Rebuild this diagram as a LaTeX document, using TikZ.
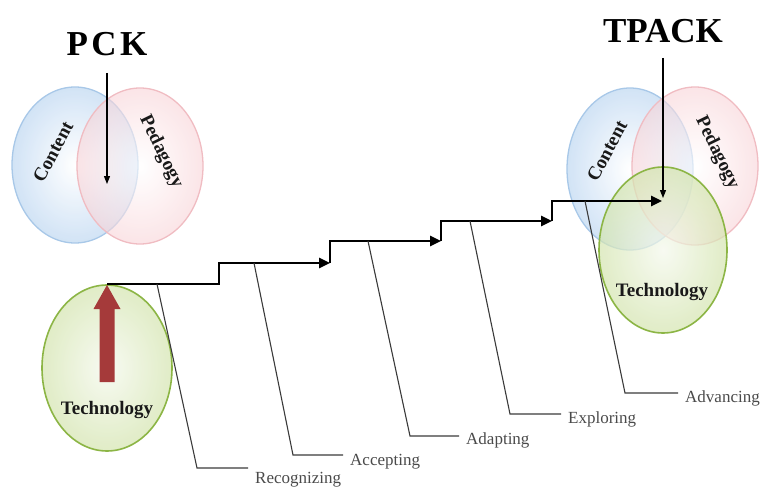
\documentclass[tikz,border=0pt]{standalone}
\usepackage{fontspec}
\setmainfont{Liberation Serif}
\usetikzlibrary{shapes.geometric,arrows.meta,calc}
\definecolor{cborder}{HTML}{A8C8E8}
\definecolor{cfill}{HTML}{C6DCF3}
\definecolor{pborder}{HTML}{F0BCC2}
\definecolor{pfill}{HTML}{F8D3D7}
\definecolor{tborder}{HTML}{8CB545}
\definecolor{tfill}{HTML}{D3E4AE}
\definecolor{tinner}{HTML}{F4F8EC}
\definecolor{redarr}{HTML}{A53A3A}
\definecolor{leadc}{HTML}{3A3A3A}
\definecolor{labc}{HTML}{4A4A4A}
\tikzset{
  venn/.style={ellipse, inner sep=0pt, line width=1.3pt},
  contentell/.style={venn, draw=cborder, shade, inner color=white, outer color=cfill, fill opacity=0.8},
  pedell/.style={venn, draw=pborder, shade, inner color=white, outer color=pfill, fill opacity=0.6},
  techell/.style={venn, draw=tborder, line width=1.6pt, shade, inner color=tinner, outer color=tfill, fill opacity=0.7},
  vennlab/.style={font=\fontsize{19}{19}\selectfont\bfseries, text=black!90},
  title/.style={font=\fontsize{35}{35}\selectfont\bfseries},
  stagelab/.style={anchor=west, inner xsep=7pt, inner ysep=1pt, text=labc, font=\fontsize{17}{17}\selectfont},
  stair/.style={line width=2.6pt, line join=miter},
  stairarrow/.style={stair, -{Triangle[length=11pt,width=10pt]}},
  leader/.style={draw=leadc, line width=1.1pt},
  thinarrow/.style={line width=1.1pt, -{Triangle[length=8pt,width=6pt]}}
}
\begin{document}
\begin{tikzpicture}[x=1pt,y=-1pt]
\useasboundingbox (0,0) rectangle (763,492);

% ---------- left Venn (PCK) ----------
\node[contentell, minimum width=126pt, minimum height=156pt] (c1) at (75,165) {};
\node[pedell, minimum width=126pt, minimum height=156pt] (p1) at (140,166) {};
\node[vennlab, rotate=62] (c1lab) at (53,152) {Content};
\node[vennlab, rotate=-64] (p1lab) at (161,152) {Pedagogy};
\node[title] (pck) at (107,44.5) {\spaceskip=0.1em P C K};
\coordinate (pckend) at (107,184);
\draw[thinarrow, shorten <=13pt] (pck.south) -- (pckend);

% ---------- left Technology ----------
\node[techell, minimum width=130pt, minimum height=166pt] (t1) at (107,368) {};
\fill[redarr] (99.5,382) -- (99.5,309) -- (93.5,309) -- (107,285) -- (120.5,309) -- (114.5,309) -- (114.5,382) -- cycle;
\node[vennlab] (t1lab) at (107,410) {Technology};

% ---------- right Venn (TPACK) ----------
\node[contentell, minimum width=126pt, minimum height=162pt] (c2) at (630,169) {};
\node[pedell, minimum width=126pt, minimum height=158pt] (p2) at (695,166) {};
\node[techell, minimum width=128pt, minimum height=166pt] (t2) at (663,250) {};
\node[vennlab, rotate=62] (c2lab) at (607,151) {Content};
\node[vennlab, rotate=-64] (p2lab) at (717,153) {Pedagogy};
\node[vennlab] (t2lab) at (662,292) {Technology};
\node[title] (tpack) at (663,31.5) {TPACK};
\coordinate (tpackend) at (663,198);
\draw[thinarrow, shorten <=11pt] (tpack.south) -- (tpackend);

% ---------- staircase ----------
\coordinate (s0) at (107,284);
\coordinate (k1) at (219,284);
\coordinate (a1) at (330,263);
\coordinate (a2) at (441,241);
\coordinate (a3) at (552,221);
\coordinate (a4) at (662,201);
\draw[stairarrow] (s0) -- (k1) |- (a1);
\draw[stairarrow] (a1) |- (a2);
\draw[stairarrow] (a2) |- (a3);
\draw[stairarrow] (a3) |- (a4);

% ---------- stage labels and leaders ----------
\node[stagelab] (rec) at (248,480) {Recognizing};
\node[stagelab] (acc) at (343,462) {Accepting};
\node[stagelab] (ada) at (459,440) {Adapting};
\node[stagelab] (exp) at (561,419) {Exploring};
\node[stagelab] (adv) at (678,398) {Advancing};

\coordinate (r0) at (157,284); \coordinate (r1) at (197,468);
\coordinate (e0) at (254,263); \coordinate (e1) at (293,455);
\coordinate (d0) at (368,241); \coordinate (d1) at (410,436);
\coordinate (x0) at (470,221); \coordinate (x1) at (510,414);
\coordinate (v0) at (585,201); \coordinate (v1) at (625,393);
\draw[leader] (r0) -- (r1) -- (r1 -| rec.west);
\draw[leader] (e0) -- (e1) -- (e1 -| acc.west);
\draw[leader] (d0) -- (d1) -- (d1 -| ada.west);
\draw[leader] (x0) -- (x1) -- (x1 -| exp.west);
\draw[leader] (v0) -- (v1) -- (v1 -| adv.west);
\end{tikzpicture}
\end{document}
